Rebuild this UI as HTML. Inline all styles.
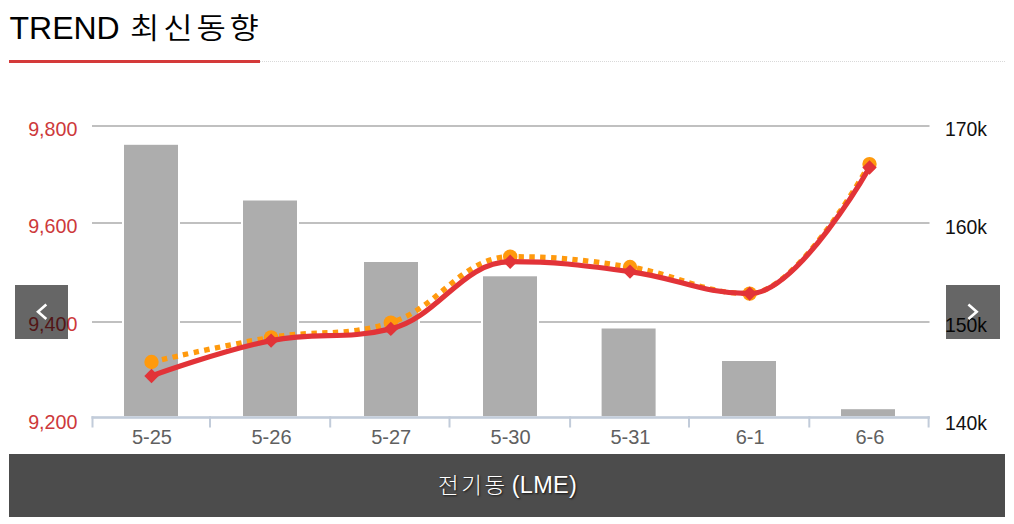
<!DOCTYPE html>
<html lang="ko"><head><meta charset="utf-8"><title>TREND 최신동향</title>
<style>
html,body{margin:0;padding:0;background:#fff;}
body{width:1014px;height:524px;position:relative;overflow:hidden;font-family:"Liberation Sans","Noto Sans CJK KR",sans-serif;}
.title{position:absolute;left:9.5px;top:7.5px;margin:0;font-size:32px;line-height:40px;font-weight:normal;color:#000;white-space:nowrap;}
.title .ko{display:inline-block;font-size:29px;letter-spacing:3.5px;font-weight:350;margin-left:1.6px;transform:scaleX(1.1);transform-origin:0 50%;}
.rule{position:absolute;left:9px;top:61px;width:996px;height:0;border-top:1px dotted #d9d9d9;}
.rule i{position:absolute;left:0;top:-2px;width:251px;height:3px;background:#d43a3a;}
svg.chart{position:absolute;left:0;top:0;}
.nav{position:absolute;top:285px;width:53px;height:54px;background:rgba(0,0,0,.6);}
.nav.prev{left:15px;} .nav.next{left:946px;width:54px;}
.nav svg{position:absolute;left:0;top:0;}
.cap{position:absolute;left:9px;top:454px;width:996px;height:62.5px;background:#4c4c4c;color:#fff;text-shadow:1px 1px 2px rgba(0,0,0,.75);white-space:nowrap;}
.cap span{position:absolute;top:0;line-height:62px;}
.cap .ko{left:429.4px;top:1px;font-size:22px;font-weight:300;letter-spacing:2.5px;transform:scaleX(1.02);transform-origin:0 50%;}
.cap .en{left:496px;font-size:23.5px;letter-spacing:.25px;}
</style></head><body>
<h2 class="title">TREND <span class="ko">최신동향</span></h2>
<div class="rule"><i></i></div>
<svg class="chart" width="1014" height="524" viewBox="0 0 1014 524">
<rect x="92" y="125" width="837.5" height="2" fill="#c0c0c0"/>
<rect x="92" y="222" width="837.5" height="2" fill="#c0c0c0"/>
<rect x="92" y="321" width="837.5" height="2" fill="#c0c0c0"/>
<rect x="122" y="142.8" width="58" height="273.4" fill="#fff"/>
<rect x="124" y="144.8" width="54" height="271.4" fill="#adadad"/>
<rect x="241" y="198.5" width="58" height="217.7" fill="#fff"/>
<rect x="243" y="200.5" width="54" height="215.7" fill="#adadad"/>
<rect x="362" y="260" width="58" height="156.2" fill="#fff"/>
<rect x="364" y="262" width="54" height="154.2" fill="#adadad"/>
<rect x="481" y="274.3" width="58" height="141.9" fill="#fff"/>
<rect x="483" y="276.3" width="54" height="139.9" fill="#adadad"/>
<rect x="599.6" y="326.5" width="58.0" height="89.7" fill="#fff"/>
<rect x="601.6" y="328.5" width="54.0" height="87.7" fill="#adadad"/>
<rect x="720" y="359" width="58" height="57.2" fill="#fff"/>
<rect x="722" y="361" width="54" height="55.2" fill="#adadad"/>
<rect x="839" y="407.2" width="58" height="9.0" fill="#fff"/>
<rect x="841" y="409.2" width="54" height="7.0" fill="#adadad"/>
<rect x="91.5" y="416.2" width="838.3" height="2.6" fill="#c2ccda"/>
<rect x="91.50" y="416.2" width="2" height="11.3" fill="#c2ccda"/>
<rect x="209.00" y="416.2" width="2" height="11.3" fill="#c2ccda"/>
<rect x="329.20" y="416.2" width="2" height="11.3" fill="#c2ccda"/>
<rect x="448.50" y="416.2" width="2" height="11.3" fill="#c2ccda"/>
<rect x="569.10" y="416.2" width="2" height="11.3" fill="#c2ccda"/>
<rect x="688.00" y="416.2" width="2" height="11.3" fill="#c2ccda"/>
<rect x="808.30" y="416.2" width="2" height="11.3" fill="#c2ccda"/>
<rect x="927.60" y="416.2" width="2" height="11.3" fill="#c2ccda"/>
<path d="M151.50 362.00 C151.50 362.00 223.26 345.26 271.10 337.40 C318.98 329.54 342.92 337.40 390.80 322.70 C438.56 308.00 462.44 256.70 510.20 256.70 C558.12 256.70 582.08 259.62 630.00 267.00 C677.88 274.38 701.82 293.60 749.70 293.60 C797.62 293.60 869.50 164.10 869.50 164.10" fill="none" stroke="#ff9a0d" stroke-width="5.3" stroke-dasharray="5.4 5.43" stroke-linejoin="round"/>
<circle cx="151.5" cy="362" r="7.2" fill="#ff9a0d"/>
<circle cx="271.1" cy="337.4" r="7.2" fill="#ff9a0d"/>
<circle cx="390.8" cy="322.7" r="7.2" fill="#ff9a0d"/>
<circle cx="510.2" cy="256.7" r="7.2" fill="#ff9a0d"/>
<circle cx="630.0" cy="267" r="7.2" fill="#ff9a0d"/>
<circle cx="749.7" cy="293.6" r="7.2" fill="#ff9a0d"/>
<circle cx="869.5" cy="164.1" r="7.2" fill="#ff9a0d"/>
<path d="M151.50 376.00 C151.50 376.00 223.26 350.02 271.10 340.60 C318.98 331.18 342.92 340.60 390.80 328.90 C438.56 317.20 462.44 261.70 510.20 261.70 C558.12 261.70 582.08 265.22 630.00 271.60 C677.88 277.98 701.82 293.60 749.70 293.60 C797.62 293.60 869.50 167.50 869.50 167.50" fill="none" stroke="#e23338" stroke-width="5.2" stroke-linejoin="round" stroke-linecap="round"/>
<path d="M151.5 368.8L158.7 376L151.5 383.2L144.3 376Z" fill="#e23338"/>
<path d="M271.1 333.4L278.3 340.6L271.1 347.8L263.9 340.6Z" fill="#e23338"/>
<path d="M390.8 321.7L398.0 328.9L390.8 336.1L383.6 328.9Z" fill="#e23338"/>
<path d="M510.2 254.5L517.4 261.7L510.2 268.9L503.0 261.7Z" fill="#e23338"/>
<path d="M630.0 264.4L637.2 271.6L630.0 278.8L622.8 271.6Z" fill="#e23338"/>
<path d="M749.7 286.4L756.9 293.6L749.7 300.8L742.5 293.6Z" fill="#e23338"/>
<path d="M869.5 160.3L876.7 167.5L869.5 174.7L862.3 167.5Z" fill="#e23338"/>
<text transform="translate(77.4,136.1) scale(.985,1.03)" text-anchor="end" fill="#cd393b" font-family="Liberation Sans, Arial, sans-serif" font-size="20">9,800</text>
<text transform="translate(77.4,233.4) scale(.985,1.03)" text-anchor="end" fill="#cd393b" font-family="Liberation Sans, Arial, sans-serif" font-size="20">9,600</text>
<text transform="translate(77.4,331.2) scale(.985,1.03)" text-anchor="end" fill="#cd393b" font-family="Liberation Sans, Arial, sans-serif" font-size="20">9,400</text>
<text transform="translate(77.4,429.4) scale(.985,1.03)" text-anchor="end" fill="#cd393b" font-family="Liberation Sans, Arial, sans-serif" font-size="20">9,200</text>
<text transform="translate(944.9,136.4) scale(.97,1)" fill="#111" font-family="Liberation Sans, Arial, sans-serif" font-size="20">170k</text>
<text transform="translate(944.9,233.7) scale(.97,1)" fill="#111" font-family="Liberation Sans, Arial, sans-serif" font-size="20">160k</text>
<text transform="translate(944.9,331.8) scale(.97,1)" fill="#111" font-family="Liberation Sans, Arial, sans-serif" font-size="20">150k</text>
<text transform="translate(944.9,429.5) scale(.97,1)" fill="#111" font-family="Liberation Sans, Arial, sans-serif" font-size="20">140k</text>
<text x="151.9" y="444" text-anchor="middle" fill="#606060" font-family="Liberation Sans, Arial, sans-serif" font-size="20">5-25</text>
<text x="271.5" y="444" text-anchor="middle" fill="#606060" font-family="Liberation Sans, Arial, sans-serif" font-size="20">5-26</text>
<text x="391.2" y="444" text-anchor="middle" fill="#606060" font-family="Liberation Sans, Arial, sans-serif" font-size="20">5-27</text>
<text x="510.6" y="444" text-anchor="middle" fill="#606060" font-family="Liberation Sans, Arial, sans-serif" font-size="20">5-30</text>
<text x="630.4" y="444" text-anchor="middle" fill="#606060" font-family="Liberation Sans, Arial, sans-serif" font-size="20">5-31</text>
<text x="750.1" y="444" text-anchor="middle" fill="#606060" font-family="Liberation Sans, Arial, sans-serif" font-size="20">6-1</text>
<text x="869.9" y="444" text-anchor="middle" fill="#606060" font-family="Liberation Sans, Arial, sans-serif" font-size="20">6-6</text>
</svg>
<div class="nav prev"><svg width="53" height="54"><path d="M31.3 19.5L23 26.7L31.3 34" fill="none" stroke="#fff" stroke-width="2.6"/></svg></div>
<div class="nav next"><svg width="54" height="54"><path d="M22.4 19.5L30.7 26.7L22.4 34" fill="none" stroke="#fff" stroke-width="2.6"/></svg></div>
<div class="cap"><span class="ko">전기동</span><span class="en">&nbsp;(LME)</span></div>
</body></html>
